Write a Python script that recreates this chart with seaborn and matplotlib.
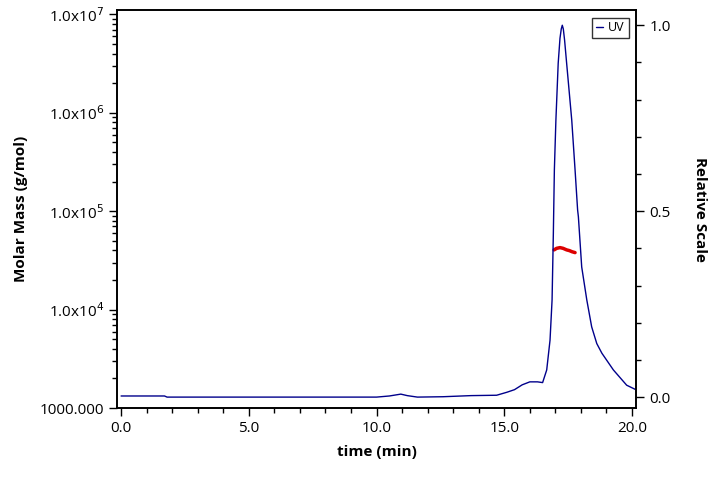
import matplotlib
matplotlib.use("Agg")
import matplotlib.pyplot as plt
import matplotlib.ticker as mticker
import seaborn as sns
import numpy as np
import pandas as pd

# UV trace (relative scale)
uv_time = [0.0, 1.7, 1.8, 5.0, 10.0, 10.5, 10.95, 11.2, 11.6, 12.6, 13.7, 14.7, 15.1,
           15.4, 15.7, 16.0, 16.3, 16.5, 16.66, 16.79, 16.87, 16.92, 16.96, 17.02,
           17.11, 17.18, 17.23, 17.27, 17.31, 17.36, 17.44, 17.64, 17.77, 17.87, 17.9,
           18.03, 18.23, 18.42, 18.62, 18.82, 19.27, 19.79, 20.18]
uv_rel = [0.003, 0.003, 0.0, 0.0, 0.0, 0.003, 0.008, 0.004, 0.0, 0.001, 0.004, 0.005, 0.013,
          0.02, 0.033, 0.041, 0.041, 0.039, 0.073, 0.153, 0.261, 0.44, 0.611, 0.745,
          0.898, 0.965, 0.99, 1.0, 0.99, 0.96, 0.898, 0.745, 0.611, 0.503, 0.485,
          0.35, 0.261, 0.189, 0.144, 0.118, 0.073, 0.032, 0.019]

# Molar mass points (g/mol)
mm_time = [16.95, 17.05, 17.18, 17.3, 17.44, 17.55, 17.65, 17.77]
mm_mass = [4.05e4, 4.2e4, 4.27e4, 4.2e4, 4.05e4, 3.98e4, 3.88e4, 3.8e4]

sns.set_style("ticks")
plt.rcParams['font.family'] = ['Open Sans', 'DejaVu Sans']
plt.rcParams['text.color'] = 'black'
plt.rcParams['axes.labelcolor'] = 'black'

fig = plt.figure(figsize=(7.2, 4.79), dpi=100)
ax = fig.add_axes([0.1625, 0.148, 0.721, 0.831])
ax2 = ax.twinx()

uv = pd.DataFrame({"time": uv_time, "rel": uv_rel})
mm = pd.DataFrame({"time": mm_time, "mass": mm_mass})

sns.lineplot(data=uv, x="time", y="rel", ax=ax2, color="#00008b", linewidth=1.0, label="UV")
sns.lineplot(data=mm, x="time", y="mass", ax=ax, color="#dd0000", linewidth=2.5)

ax.set_yscale("log")
ax.set_ylim(1000, 1.106e7)
ax.set_xlim(-0.16, 20.16)
ax2.set_ylim(-0.0296, 1.0408)


def fmt_mass(v, pos):
    e = int(round(np.log10(v)))
    if e == 3:
        return "1000.000"
    return "1.0x10$^{%d}$" % e


ax.yaxis.set_major_locator(mticker.LogLocator(base=10, numticks=10))
ax.yaxis.set_minor_locator(mticker.LogLocator(base=10, subs=np.arange(2, 10), numticks=10))
ax.yaxis.set_minor_formatter(mticker.NullFormatter())
ax.yaxis.set_major_formatter(mticker.FuncFormatter(fmt_mass))

ax.xaxis.set_major_locator(mticker.MultipleLocator(5))
ax.xaxis.set_minor_locator(mticker.MultipleLocator(1))
ax.xaxis.set_major_formatter(mticker.FormatStrFormatter("%.1f"))

ax2.yaxis.set_major_locator(mticker.MultipleLocator(0.5))
ax2.yaxis.set_minor_locator(mticker.MultipleLocator(0.1))
ax2.yaxis.set_major_formatter(mticker.FormatStrFormatter("%.1f"))

for a in (ax, ax2):
    a.tick_params(which="major", length=6, width=1, labelsize=11,
                  colors="black", labelcolor="black")
    a.tick_params(which="minor", length=3.5, width=1, colors="black")
    for s in a.spines.values():
        s.set_visible(True)
        s.set_linewidth(1.2)
        s.set_color("black")

ax.set_xlabel("time (min)", fontsize=11, fontweight="bold", labelpad=6)
ax.set_ylabel("Molar Mass (g/mol)", fontsize=11, fontweight="bold", labelpad=8)
ax2.set_ylabel("Relative Scale", fontsize=11, fontweight="bold", rotation=270, labelpad=26)

leg = ax2.legend(loc="upper right", fontsize=9, frameon=True, fancybox=False,
                 handlelength=0.6, handletextpad=0.4, borderpad=0.3,
                 borderaxespad=0.6)
leg.get_frame().set_edgecolor("black")
leg.get_frame().set_linewidth(1.0)

fig.savefig("out.png", dpi=100)
